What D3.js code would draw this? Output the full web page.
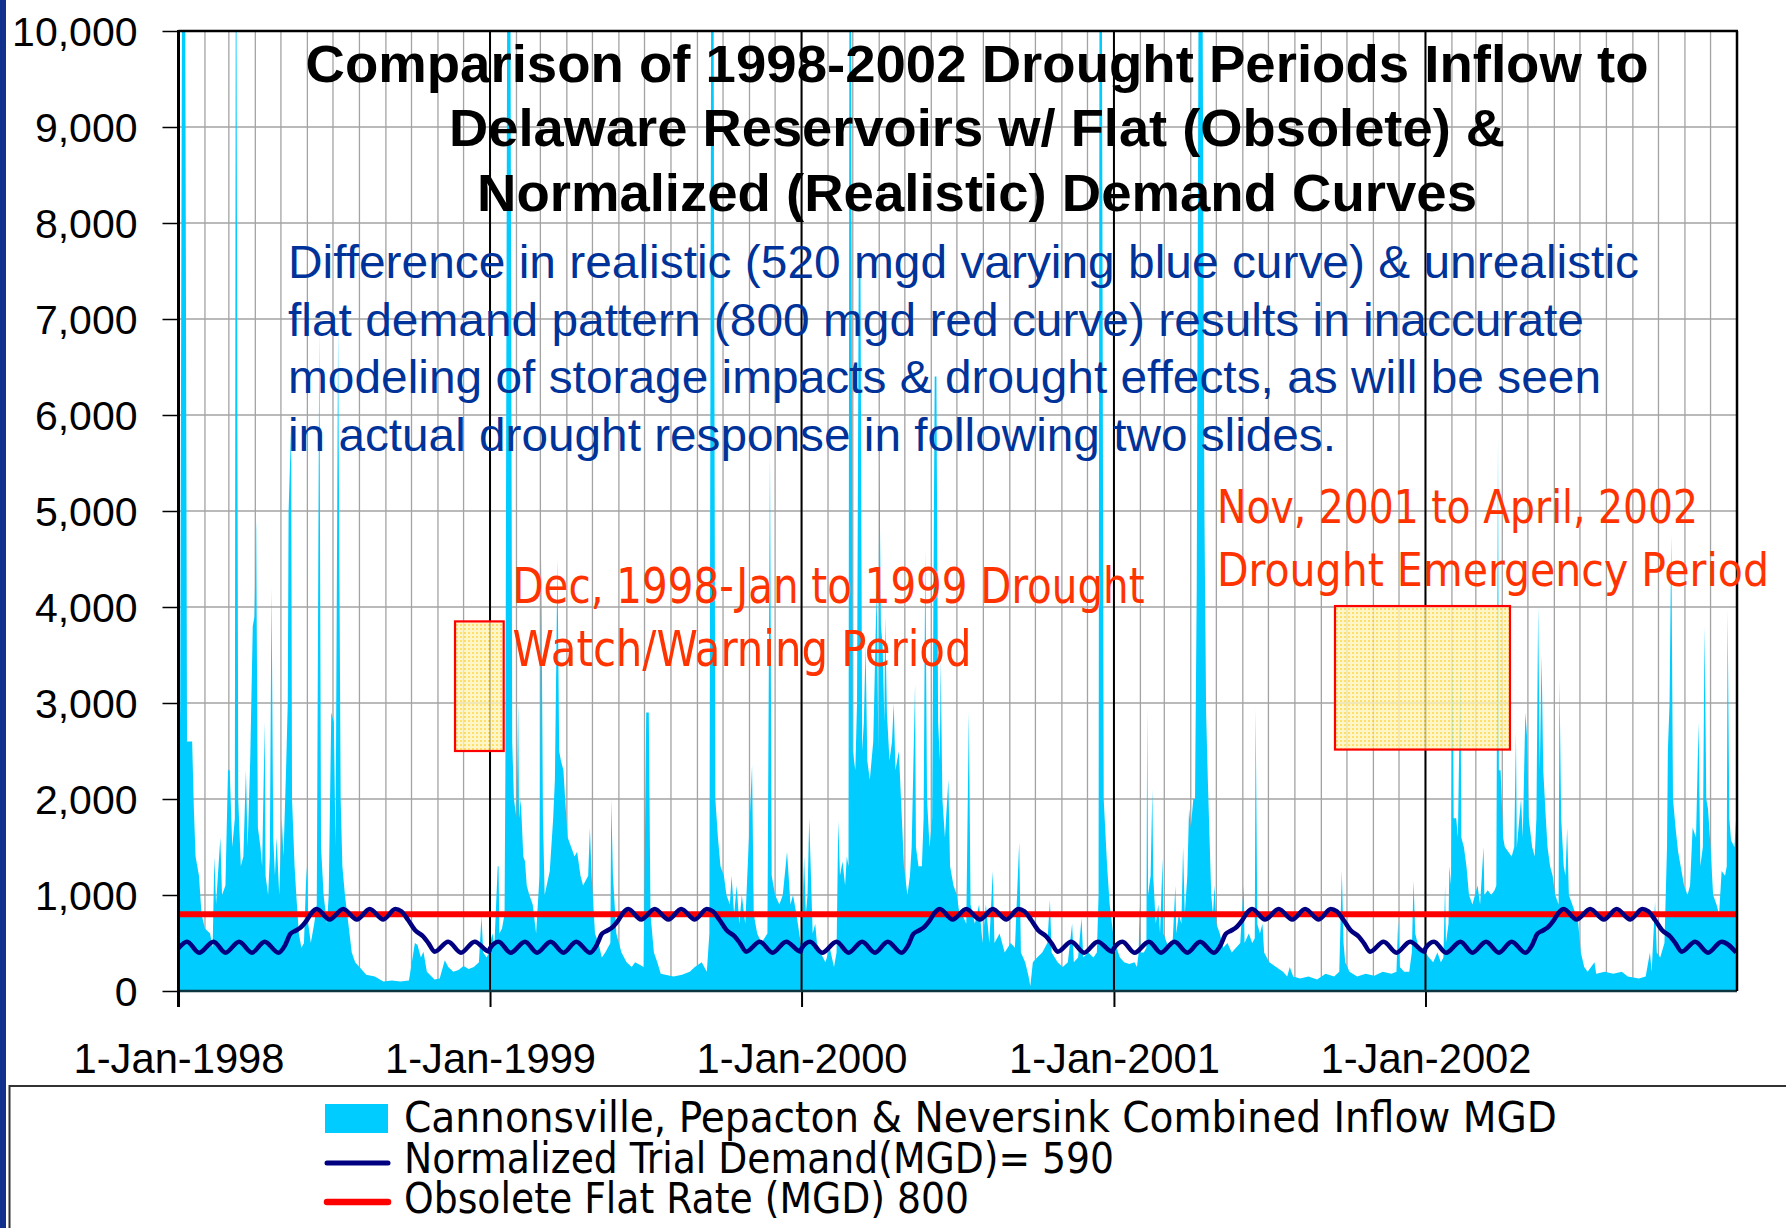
<!DOCTYPE html>
<html><head><meta charset="utf-8">
<script src="https://cdn.jsdelivr.net/npm/d3@7"></script>
<style>html,body{margin:0;padding:0;background:#fff;} svg{display:block;}</style>
</head><body>
<svg id="chart" width="1786" height="1228"></svg>
<script>
// ---------------- DATA ----------------
const yTickValues = [0,1000,2000,3000,4000,5000,6000,7000,8000,9000,10000];
const yearStarts = ["1998-01-01","1999-01-01","2000-01-01","2001-01-01","2002-01-01"];
const yearLabels = ["1-Jan-1998","1-Jan-1999","1-Jan-2000","1-Jan-2001","1-Jan-2002"];
const axisStart = "1998-01-01", axisEnd = "2003-01-01";

// Combined inflow (MGD) as [day of year, value]
const inflow1998 = [[0,1500],[2,3000],[4,10000],[8,10000],[10,2600],[16,2600],[18,1900],[20,1400],[24,1200],[27,800],[31,650],[37,600],[40,450],[42,1400],[44,900],[49,1600],[51,1000],[55,1100],[58,2300],[60,2300],[63,1500],[66,1800],[67,10000],[68,10000],[70,2000],[73,1300],[76,1400],[79,2300],[81,1500],[84,2400],[87,3800],[89,3900],[91,4900],[93,1700],[96,1500],[98,1300],[101,2800],[102,1200],[105,1000],[107,1400],[109,4200],[111,1600],[113,1200],[115,1600],[118,1000],[121,1800],[123,1400],[126,2300],[128,3000],[129,5000],[132,5900],[133,2000],[136,1300],[138,1000],[141,600],[144,450],[147,500],[150,1300],[152,700],[155,500],[159,700],[162,900],[165,6900],[167,1500],[170,1000],[174,700],[176,1000],[179,2900],[182,2800],[184,1500],[187,6900],[190,2000],[192,1300],[195,1000],[199,700],[203,400],[207,300],[213,240],[220,170],[230,150],[240,100],[250,110],[260,100],[270,110],[277,500],[280,480],[284,350],[287,410],[291,200],[300,120],[306,130],[312,320],[316,250],[322,200],[328,220],[334,260],[340,230],[346,250],[352,300],[355,780],[357,400],[361,350],[364,400]];
const inflow1999 = [[0,500],[3,600],[5,450],[9,1300],[10,1300],[11,600],[14,650],[17,800],[18,2300],[20,10000],[24,10000],[26,2600],[28,2000],[31,1800],[33,3000],[34,1800],[36,2000],[39,1400],[41,1350],[43,1100],[46,1000],[50,900],[54,600],[58,1200],[60,4500],[62,1800],[64,1000],[70,1250],[74,1800],[76,2200],[79,4500],[81,2500],[83,2400],[86,2300],[88,2000],[91,1600],[99,1400],[102,1450],[106,1200],[109,1100],[115,1200],[117,1700],[119,1200],[123,600],[127,500],[131,350],[135,400],[141,500],[142,2000],[144,1200],[148,600],[154,400],[160,300],[166,250],[170,300],[180,250],[183,2900],[186,2900],[188,800],[192,400],[196,300],[200,180],[215,150],[225,170],[234,200],[240,250],[248,300],[254,200],[257,600],[259,10000],[262,10000],[264,2000],[267,1600],[270,1300],[274,1200],[277,1000],[281,900],[283,1200],[286,800],[289,1100],[292,700],[295,1000],[299,700],[307,2350],[309,800],[313,600],[318,500],[325,600],[328,5600],[330,1200],[334,1000],[339,900],[343,1000],[348,1450],[352,900],[355,1000],[359,800],[364,500]];
const inflow2000 = [[0,500],[3,1400],[5,800],[7,1000],[9,1800],[11,1200],[13,600],[16,700],[18,500],[22,400],[28,300],[33,450],[38,250],[41,400],[43,1770],[45,1200],[48,1350],[51,1100],[53,1400],[55,1300],[56,10000],[58,10000],[60,2500],[63,2300],[65,3000],[67,7600],[69,7600],[71,2500],[73,2800],[75,3600],[77,2400],[80,2200],[84,2600],[88,4200],[90,2500],[91,5650],[93,3800],[95,3600],[97,2800],[98,3900],[100,2900],[103,2400],[106,2600],[108,3000],[110,2300],[114,2500],[117,1900],[120,1300],[124,1000],[127,1200],[129,1500],[133,3200],[134,1500],[137,1300],[141,1300],[143,1800],[145,4600],[147,2000],[150,1500],[153,1800],[156,6400],[158,6400],[160,2800],[162,2400],[163,3450],[165,2000],[168,1600],[172,2200],[174,1300],[178,1100],[182,1000],[185,800],[188,800],[193,700],[196,2900],[198,900],[203,700],[208,900],[212,500],[216,900],[220,500],[224,1250],[226,500],[232,600],[238,400],[245,500],[250,450],[255,1550],[257,400],[262,300],[266,150],[268,50],[271,300],[276,350],[282,400],[288,500],[291,950],[293,400],[300,300],[306,250],[312,300],[317,700],[319,300],[324,350],[328,760],[330,350],[336,400],[342,350],[346,400],[348,1000],[349,10000],[352,10000],[354,2000],[358,1300],[361,900],[365,600]];
const inflow2001 = [[0,500],[3,450],[7,350],[12,300],[18,280],[24,300],[27,250],[29,400],[30,900],[31,400],[35,400],[38,450],[39,2970],[40,1000],[43,1200],[45,2100],[46,1200],[49,700],[52,900],[54,600],[57,1380],[58,600],[62,500],[66,450],[69,550],[72,1100],[73,600],[76,800],[79,700],[81,1500],[83,800],[86,1200],[88,1900],[90,1700],[93,2000],[95,2000],[97,4200],[99,10000],[104,10000],[106,5000],[108,2900],[110,2200],[112,1600],[114,1000],[116,800],[118,1100],[120,700],[124,600],[128,450],[133,500],[138,400],[143,450],[148,500],[152,1100],[153,500],[158,600],[162,500],[165,550],[166,2940],[168,700],[171,600],[174,700],[176,400],[182,300],[190,250],[198,200],[203,150],[206,250],[210,150],[218,130],[228,150],[238,120],[248,180],[258,150],[264,200],[267,1250],[269,500],[271,300],[276,200],[285,150],[295,180],[305,160],[315,200],[325,180],[331,200],[333,730],[335,250],[340,200],[346,200],[349,400],[351,1150],[353,600],[357,450],[364,400]];
const inflow2002 = [[0,400],[4,350],[9,300],[14,400],[18,300],[21,350],[23,1100],[24,500],[27,700],[28,1300],[30,1100],[32,3700],[33,1800],[36,1800],[38,1600],[41,3450],[42,1600],[45,1500],[48,1300],[51,1000],[55,900],[58,1000],[61,1100],[64,900],[68,1500],[69,1000],[73,1050],[77,1000],[81,1050],[83,1100],[85,5750],[86,2300],[88,2300],[91,1600],[93,1500],[97,1450],[101,1400],[104,1500],[106,2700],[107,1500],[110,1800],[112,2000],[114,1600],[117,2900],[119,2650],[121,1800],[125,1500],[128,1400],[130,1800],[132,4000],[134,2300],[136,3500],[138,2300],[141,1800],[143,1500],[146,1300],[149,1200],[152,1000],[156,900],[157,3260],[159,1800],[162,1300],[164,1200],[166,1700],[168,1000],[172,900],[176,800],[179,700],[182,400],[186,250],[190,200],[198,300],[200,180],[210,200],[220,180],[230,200],[237,150],[250,130],[258,150],[263,400],[265,200],[269,930],[271,400],[275,350],[280,500],[283,1500],[284,2500],[286,3000],[288,4750],[290,2000],[293,1700],[296,1450],[299,1300],[303,1100],[307,1000],[310,1100],[313,1700],[317,1600],[320,2800],[322,1300],[325,1500],[327,3800],[329,2000],[331,1900],[334,1500],[337,1000],[341,900],[344,800],[347,1250],[351,1200],[353,1300],[354,3970],[356,1800],[358,1570],[362,1500],[365,1960]];

// Normalized trial demand (MGD): day-of-year points and values per year
const demandDays = [0,10,24,41,55,71,86,101,117,125,131,137,142,150,156,162,177,193,209,224,240,254,261,269,277,287,293,300,316,331,347,364];
const demand1998 = [445,514,399,514,399,514,399,514,399,479,594,628,653,733,816,854,745,854,745,854,745,854,830,740,635,566,497,410,514,399,514,410];
const demand1999 = [445,514,399,514,399,514,399,514,399,479,594,628,653,733,816,854,745,854,745,854,745,854,830,740,635,566,497,410,514,399,514,410];
const demand2000 = [445,514,399,514,399,514,399,514,399,479,594,628,653,733,816,854,745,854,745,854,745,854,830,740,635,566,497,410,514,399,514,410];
const demand2001 = [445,514,399,514,399,514,399,514,399,479,594,628,653,733,816,854,745,854,745,854,745,854,830,740,635,566,497,410,514,399,514,410];
const demand2002 = [445,514,399,514,399,514,399,514,399,479,594,628,653,733,816,854,745,854,745,854,745,854,830,740,635,566,497,410,514,399,514,400];

const flatRate = 800;

// Drought periods (highlight boxes): start, end, low, high
const watchPeriod = ["1998-11-21","1999-01-17",2500,3850];
const emergencyPeriod = ["2001-09-17","2002-04-10",2515,4010];

const seriesLabels = ["Cannonsville, Pepacton & Neversink Combined Inflow MGD","Normalized Trial Demand(MGD)= 590","Obsolete Flat Rate (MGD) 800"];
const titleLines = ["Comparison of 1998-2002 Drought Periods Inflow to","Delaware Reservoirs w/ Flat (Obsolete) &","Normalized (Realistic) Demand Curves"];
const noteLines = ["Difference in realistic (520 mgd varying blue curve) & unrealistic","flat demand pattern (800 mgd red curve) results in inaccurate","modeling of storage impacts & drought effects, as will be seen","in actual drought response in following two slides."];
const watchLines = ["Dec, 1998-Jan to 1999 Drought","Watch/Warning Period"];
const emergencyLines = ["Nov, 2001 to April, 2002","Drought Emergency Period"];

// ---------------- DRAWING ----------------
const svg = d3.select("#chart");
const W = 1786, H = 1228;
const L = 178.5, R = 1737, T = 31, B = 991;
const parse = d3.utcParse("%Y-%m-%d");
const x = d3.scaleUtc().domain([parse(axisStart), parse(axisEnd)]).range([L, R]);
const y = d3.scaleLinear().domain([0, 10000]).range([B, T]);
const dayOf = (yr, d) => d3.utcDay.offset(new Date(Date.UTC(yr, 0, 1)), d);

const inflow = [];
[[1998,inflow1998],[1999,inflow1999],[2000,inflow2000],[2001,inflow2001],[2002,inflow2002]]
  .forEach(([yr, arr]) => arr.forEach(([d, v]) => inflow.push({date: dayOf(yr, d), v})));
const demand = [];
[[1998,demand1998],[1999,demand1999],[2000,demand2000],[2001,demand2001],[2002,demand2002]]
  .forEach(([yr, arr]) => arr.forEach((v, i) => demand.push({date: dayOf(yr, demandDays[i]), v})));

const SANS = "'Liberation Sans', Arial, 'DejaVu Sans', sans-serif";
const NARROW = "'Liberation Sans Narrow', 'Arial Narrow', 'DejaVu Sans Condensed', 'Liberation Sans', sans-serif";

svg.append("rect").attr("width", W).attr("height", H).attr("fill", "#fff");

const defs = svg.append("defs");
defs.append("clipPath").attr("id", "plotClip").append("rect")
  .attr("x", L).attr("y", T).attr("width", R - L).attr("height", B - T);
const pat = defs.append("pattern").attr("id", "dots").attr("width", 4).attr("height", 4)
  .attr("patternUnits", "userSpaceOnUse");
pat.append("rect").attr("width", 4).attr("height", 4).attr("fill", "#fff4b8");
pat.append("rect").attr("width", 2).attr("height", 2).attr("fill", "#ffd640");

// gridlines
const grid = svg.append("g");
grid.selectAll("line.h").data(yTickValues.filter(v => v > 0 && v < 10000)).join("line")
  .attr("x1", L).attr("x2", R).attr("y1", d => y(d)).attr("y2", d => y(d))
  .attr("stroke", "#a3a3a3").attr("stroke-width", 1.3);
grid.selectAll("line.v").data(d3.utcMonth.range(parse(axisStart), parse(axisEnd))).join("line")
  .attr("x1", d => x(d)).attr("x2", d => x(d)).attr("y1", T).attr("y2", B)
  .attr("stroke", "#a3a3a3").attr("stroke-width", 1.3);

// inflow area
const area = d3.area().x(d => x(d.date)).y0(y(0)).y1(d => y(d.v));
svg.append("path").datum(inflow).attr("clip-path", "url(#plotClip)")
  .attr("d", area).attr("fill", "#00ccff");

// year lines
svg.append("g").selectAll("line").data(yearStarts.slice(1).map(parse)).join("line")
  .attr("x1", d => x(d)).attr("x2", d => x(d)).attr("y1", T).attr("y2", B)
  .attr("stroke", "#000").attr("stroke-width", 2);

// drought boxes
[watchPeriod, emergencyPeriod].forEach(p => {
  const bx = x(parse(p[0])), bw = x(parse(p[1])) - bx, by = y(p[3]), bh = y(p[2]) - y(p[3]);
  svg.append("rect").attr("x", bx).attr("y", by).attr("width", bw).attr("height", bh)
    .attr("fill", "url(#dots)").attr("opacity", 0.78);
  svg.append("rect").attr("x", bx).attr("y", by).attr("width", bw).attr("height", bh)
    .attr("fill", "none").attr("stroke", "#ff0000").attr("stroke-width", 2.2);
});

// flat rate line
svg.append("line").attr("x1", L).attr("x2", R).attr("y1", y(flatRate)).attr("y2", y(flatRate))
  .attr("stroke", "#ff0000").attr("stroke-width", 6);

// demand line
const line = d3.line().x(d => x(d.date)).y(d => y(d.v)).curve(d3.curveMonotoneX);
svg.append("path").datum(demand).attr("d", line).attr("fill", "none")
  .attr("stroke", "#000080").attr("stroke-width", 4.5).attr("stroke-linejoin", "round");

// axes
const yAxis = d3.axisLeft(y).tickValues(yTickValues).tickSize(16).tickPadding(25)
  .tickFormat(d3.format(","));
svg.append("g").attr("transform", `translate(${L},0)`).call(yAxis)
  .call(g => g.select(".domain").remove())
  .call(g => g.selectAll("line").attr("stroke", "#000").attr("stroke-width", 1.5))
  .call(g => g.selectAll("text").attr("font-family", SANS).attr("font-size", 41)
    .attr("fill", "#000").attr("dy", "0.36em"));

const xAxis = d3.axisBottom(x).tickValues(yearStarts.map(parse)).tickSize(16)
  .tickFormat((d, i) => yearLabels[i]);
svg.append("g").attr("transform", `translate(0,${B})`).call(xAxis)
  .call(g => g.select(".domain").remove())
  .call(g => g.selectAll("line").attr("stroke", "#000").attr("stroke-width", 2))
  .call(g => g.selectAll("text").attr("font-family", SANS).attr("font-size", 42)
    .attr("fill", "#000").attr("y", 82).attr("dy", 0)
    .attr("textLength", 211).attr("lengthAdjust", "spacingAndGlyphs"));

// plot frame
svg.append("line").attr("x1", L).attr("x2", R).attr("y1", B).attr("y2", B)
  .attr("stroke", "#0d3540").attr("stroke-width", 2.5);
svg.append("line").attr("x1", L).attr("x2", L).attr("y1", T - 1).attr("y2", B + 16)
  .attr("stroke", "#000").attr("stroke-width", 3);
svg.append("line").attr("x1", L).attr("x2", R + 1).attr("y1", T).attr("y2", T)
  .attr("stroke", "#000").attr("stroke-width", 2.5);
svg.append("line").attr("x1", R).attr("x2", R).attr("y1", T).attr("y2", B)
  .attr("stroke", "#000").attr("stroke-width", 2.5);

// title
const titleBase = [81.5, 145.5, 210.5], titleLen = [1343, 1056, 1000];
svg.append("g").selectAll("text").data(titleLines).join("text")
  .attr("x", 977).attr("y", (d, i) => titleBase[i]).attr("text-anchor", "middle")
  .attr("font-family", SANS).attr("font-weight", "bold").attr("font-size", 51)
  .attr("fill", "#000").attr("textLength", (d, i) => titleLen[i])
  .attr("lengthAdjust", "spacingAndGlyphs").text(d => d);

// note text
const noteBase = [278, 335.5, 393, 451], noteLen = [1351, 1296, 1313, 1048];
svg.append("g").selectAll("text").data(noteLines).join("text")
  .attr("x", 288).attr("y", (d, i) => noteBase[i])
  .attr("font-family", SANS).attr("font-size", 47).attr("fill", "#003399")
  .attr("textLength", (d, i) => noteLen[i]).attr("lengthAdjust", "spacingAndGlyphs")
  .text(d => d);

// red annotations
const watchBase = [603, 666], watchLen = [632, 459];
svg.append("g").selectAll("text").data(watchLines).join("text")
  .attr("x", 512.5).attr("y", (d, i) => watchBase[i])
  .attr("font-family", NARROW).attr("font-size", 50).attr("fill", "#ff3300")
  .attr("textLength", (d, i) => watchLen[i]).attr("lengthAdjust", "spacingAndGlyphs")
  .text(d => d);
const emBase = [523, 586], emLen = [481, 552];
svg.append("g").selectAll("text").data(emergencyLines).join("text")
  .attr("x", 1217).attr("y", (d, i) => emBase[i])
  .attr("font-family", NARROW).attr("font-size", 47).attr("fill", "#ff3300")
  .attr("textLength", (d, i) => emLen[i]).attr("lengthAdjust", "spacingAndGlyphs")
  .text(d => d);

// legend
svg.append("rect").attr("x", 9.5).attr("y", 1086).attr("width", 1800).attr("height", 200)
  .attr("fill", "#fff").attr("stroke", "#333").attr("stroke-width", 2);
svg.append("rect").attr("x", 325).attr("y", 1104).attr("width", 63).attr("height", 29)
  .attr("fill", "#00ccff");
svg.append("line").attr("x1", 327).attr("x2", 388).attr("y1", 1163).attr("y2", 1163)
  .attr("stroke", "#000080").attr("stroke-width", 5).attr("stroke-linecap", "round");
svg.append("line").attr("x1", 327).attr("x2", 388).attr("y1", 1202).attr("y2", 1202)
  .attr("stroke", "#ff0000").attr("stroke-width", 6.5).attr("stroke-linecap", "round");
const legBase = [1132, 1173, 1213], legLen = [1153, 710, 565];
svg.append("g").selectAll("text").data(seriesLabels).join("text")
  .attr("x", 404).attr("y", (d, i) => legBase[i])
  .attr("font-family", NARROW).attr("font-size", 42).attr("fill", "#000")
  .attr("textLength", (d, i) => legLen[i]).attr("lengthAdjust", "spacingAndGlyphs")
  .text(d => d);

// left slide bar
svg.append("rect").attr("x", 0).attr("y", 0).attr("width", 6).attr("height", H).attr("fill", "#12318c");
</script>
</body></html>
